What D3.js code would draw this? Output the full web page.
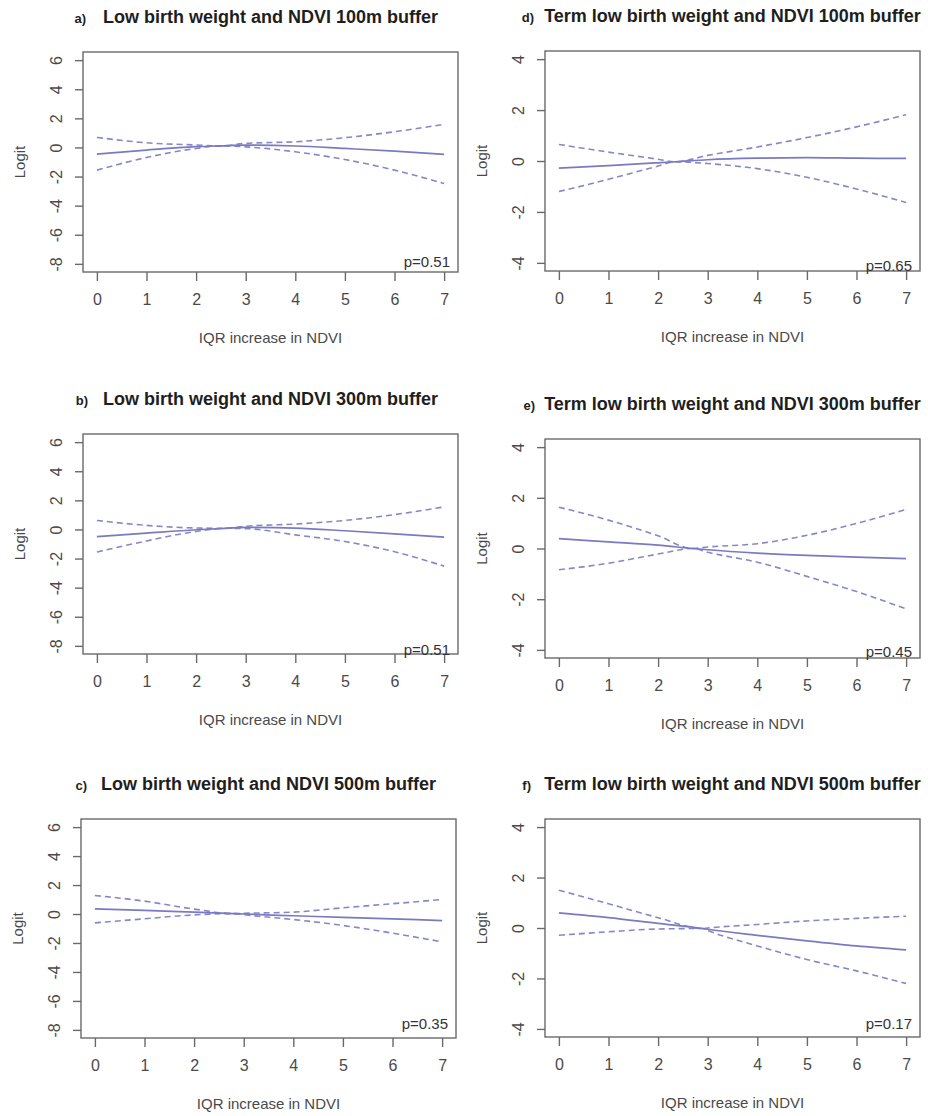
<!DOCTYPE html>
<html>
<head>
<meta charset="utf-8">
<script src="https://cdn.jsdelivr.net/npm/d3@7"></script>
<style>
  body { margin: 0; background: #fff; }
  svg { display: block; font-family: "Liberation Sans", Arial, Helvetica, sans-serif; }
</style>
</head>
<body>
<svg width="928" height="1116"></svg>
<script>
// values, one set per panel
var letters = ["a)", "b)", "c)", "d)", "e)", "f)"];
var titles = [
  "Low birth weight and NDVI 100m buffer",
  "Low birth weight and NDVI 300m buffer",
  "Low birth weight and NDVI 500m buffer",
  "Term low birth weight and NDVI 100m buffer",
  "Term low birth weight and NDVI 300m buffer",
  "Term low birth weight and NDVI 500m buffer"
];
var pValues = ["p=0.51", "p=0.51", "p=0.35", "p=0.65", "p=0.45", "p=0.17"];
var yLimits = [[-8, 6], [-8, 6], [-8, 6], [-4, 4], [-4, 4], [-4, 4]];
var xTicks = [0, 1, 2, 3, 4, 5, 6, 7];
var yTicksLbw = [-8, -6, -4, -2, 0, 2, 4, 6];
var yTicksTerm = [-4, -2, 0, 2, 4];

var xsA = [0, 1, 2, 2.5, 3, 4, 5, 6, 7];
var fitA = [-0.46, -0.18, 0.05, 0.11, 0.16, 0.1, -0.07, -0.25, -0.48];
var upA = [0.69, 0.32, 0.17, 0.11, 0.28, 0.39, 0.67, 1.08, 1.59];
var loA = [-1.56, -0.69, -0.07, 0.11, 0.04, -0.3, -0.83, -1.56, -2.48];

var xsB = [0, 1, 2, 2.6, 3, 4, 5, 6, 7];
var fitB = [-0.49, -0.25, -0.02, 0.08, 0.14, 0.09, -0.09, -0.3, -0.53];
var upB = [0.62, 0.28, 0.1, 0.08, 0.22, 0.37, 0.62, 1.02, 1.55];
var loB = [-1.55, -0.79, -0.14, 0.08, 0.06, -0.37, -0.83, -1.53, -2.52];

var xsC = [0, 1, 2, 2.8, 3, 4, 5, 6, 7];
var fitC = [0.35, 0.25, 0.13, 0.03, 0.0, -0.12, -0.23, -0.34, -0.45];
var upC = [1.28, 0.89, 0.34, 0.03, 0.05, 0.13, 0.43, 0.71, 1.0];
var loC = [-0.61, -0.33, -0.06, 0.03, -0.05, -0.38, -0.79, -1.32, -1.92];

var xsD = [0, 1, 2, 2.35, 3, 4, 5, 6, 7];
var fitD = [-0.28, -0.18, -0.07, -0.03, 0.05, 0.11, 0.13, 0.11, 0.1];
var upD = [0.65, 0.35, 0.07, -0.03, 0.22, 0.55, 0.92, 1.34, 1.82];
var loD = [-1.2, -0.72, -0.2, -0.03, -0.1, -0.3, -0.64, -1.1, -1.63];

var xsE = [0, 1, 2, 2.7, 3, 4, 5, 6, 7];
var fitE = [0.39, 0.26, 0.13, 0.0, -0.05, -0.18, -0.27, -0.34, -0.4];
var upE = [1.63, 1.12, 0.5, 0.0, 0.06, 0.19, 0.52, 0.99, 1.54];
var loE = [-0.84, -0.58, -0.22, 0.0, -0.15, -0.54, -1.1, -1.7, -2.38];

var xsF = [0, 1, 2, 2.9, 3, 4, 5, 6, 7];
var fitF = [0.6, 0.41, 0.18, -0.02, -0.05, -0.29, -0.51, -0.71, -0.87];
var upF = [1.5, 0.96, 0.41, -0.02, 0.0, 0.14, 0.28, 0.38, 0.47];
var loF = [-0.29, -0.15, -0.04, -0.02, -0.1, -0.71, -1.25, -1.7, -2.2];

var series = [
  [xsA, fitA, upA, loA], [xsB, fitB, upB, loB], [xsC, fitC, upC, loC],
  [xsD, fitD, upD, loD], [xsE, fitE, upE, loE], [xsF, fitF, upF, loF]
];

// where each plot box sits on the page (lx: letter end, py: p label lift)
var boxes = [
  {x: 83, y: 52, h: 220, lx: 3, py: 5},
  {x: 83, y: 434, h: 220, lx: 5, py: -1},
  {x: 81, y: 819, h: 219, lx: 6, py: 9},
  {x: 545, y: 51, h: 220, lx: -11, py: 0},
  {x: 545, y: 439, h: 219, lx: -10, py: 1},
  {x: 545, y: 819, h: 218, lx: -14, py: 8}
];
var boxW = 375;

var lineColor = "#7a7ac2";
var frameColor = "#6a6a6a";
var textColor = "#4a4a4a";

var svg = d3.select("svg");

boxes.forEach(function(b, i) {
  var g = svg.append("g").attr("transform", "translate(" + b.x + "," + b.y + ")");

  // R style: 4% padding around the limits
  var x = d3.scaleLinear().domain([-0.28, 7.28]).range([0, boxW]);
  var lim = yLimits[i], pad = (lim[1] - lim[0]) * 0.04;
  var y = d3.scaleLinear().domain([lim[0] - pad, lim[1] + pad]).range([b.h, 0]);
  var yTicks = i < 3 ? yTicksLbw : yTicksTerm;

  var s = series[i];
  var pts = function(vals) { return s[0].map(function(v, k) { return [v, vals[k]]; }); };
  var line = d3.line()
      .x(function(d) { return x(d[0]); })
      .y(function(d) { return y(d[1]); })
      .curve(d3.curveMonotoneX);

  g.append("path").datum(pts(s[2]))
      .attr("d", line).attr("fill", "none")
      .attr("stroke", lineColor).attr("stroke-width", 1.6)
      .attr("stroke-dasharray", "6,4").attr("opacity", 0.9);
  g.append("path").datum(pts(s[3]))
      .attr("d", line).attr("fill", "none")
      .attr("stroke", lineColor).attr("stroke-width", 1.6)
      .attr("stroke-dasharray", "6,4").attr("opacity", 0.9);
  g.append("path").datum(pts(s[1]))
      .attr("d", line).attr("fill", "none")
      .attr("stroke", lineColor).attr("stroke-width", 1.7);

  // frame
  g.append("rect")
      .attr("width", boxW).attr("height", b.h)
      .attr("fill", "none").attr("stroke", frameColor).attr("stroke-width", 1.4);

  var plain = function(d) { return String(d); };
  var xAxis = g.append("g")
      .attr("transform", "translate(0," + b.h + ")")
      .call(d3.axisBottom(x).tickValues(xTicks).tickFormat(plain).tickSize(9).tickSizeOuter(0));
  var yAxis = g.append("g")
      .call(d3.axisLeft(y).tickValues(yTicks).tickFormat(plain).tickSize(8).tickSizeOuter(0));

  [xAxis, yAxis].forEach(function(a) {
    a.select(".domain").remove();
    a.selectAll("line").attr("stroke", frameColor).attr("stroke-width", 1.4);
    a.selectAll("text").attr("fill", textColor).style("font-size", "16px");
  });
  xAxis.selectAll("text").attr("dy", null).attr("y", 33);
  // rotated y labels, reading upwards
  yAxis.selectAll("text")
      .attr("x", null).attr("dy", null)
      .attr("transform", "translate(-21,0) rotate(-90)")
      .attr("text-anchor", "middle");

  g.append("text")
      .attr("x", boxW / 2).attr("y", b.h + 71)
      .attr("text-anchor", "middle").attr("fill", textColor)
      .style("font-size", "15px")
      .text("IQR increase in NDVI");

  g.append("text")
      .attr("transform", "translate(-58," + (b.h / 2) + ") rotate(-90)")
      .attr("text-anchor", "middle").attr("fill", textColor)
      .style("font-size", "15px")
      .text("Logit");

  g.append("text")
      .attr("x", boxW / 2).attr("y", -29)
      .attr("text-anchor", "middle").attr("fill", "#1e1e1e")
      .style("font-size", "18px").style("font-weight", "bold")
      .text(titles[i]);

  g.append("text")
      .attr("x", b.lx).attr("y", -29)
      .attr("text-anchor", "end").attr("fill", "#1e1e1e")
      .style("font-size", "13px").style("font-weight", "bold")
      .text(letters[i]);

  g.append("text")
      .attr("x", boxW - 8).attr("y", b.h - b.py)
      .attr("text-anchor", "end").attr("fill", "#333")
      .style("font-size", "15px")
      .text(pValues[i]);
});
</script>
</body>
</html>
